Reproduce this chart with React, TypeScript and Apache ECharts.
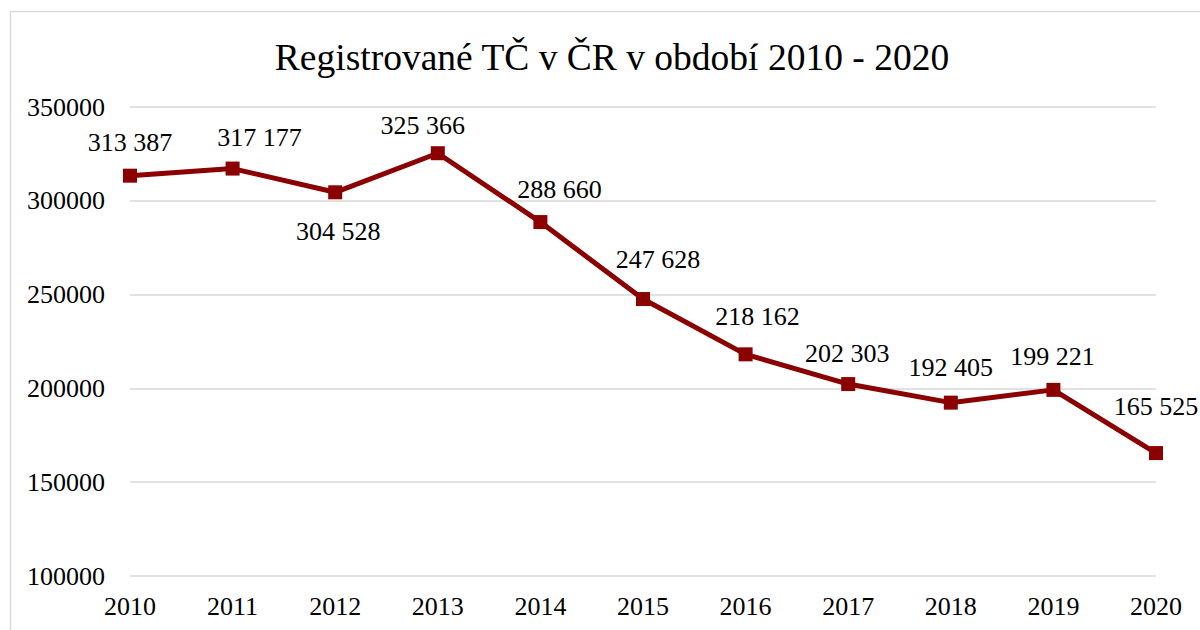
import React, { useEffect, useRef } from "react";
import * as echarts from "echarts";

const years = ["2010", "2011", "2012", "2013", "2014", "2015", "2016", "2017", "2018", "2019", "2020"];
const registered = [313387, 317177, 304528, 325366, 288660, 247628, 218162, 202303, 192405, 199221, 165525];
const labelOffsets: [number, number][] = [
  [0, -33], [27, -31], [3, 39], [-15, -28], [19, -33], [15, -40],
  [12, -38], [-1, -31], [0, -35], [-1, -33], [0, -47],
];

const FONT = "Liberation Serif";

const fmt = (v: number) => String(v).replace(/\B(?=(\d{3})+(?!\d))/g, " ");

export default function App() {
  const ref = useRef<HTMLDivElement>(null);
  useEffect(() => {
    if (!ref.current) return;
    const chart = echarts.init(ref.current, undefined, { renderer: "svg" });
    chart.setOption({
      animation: false,
      backgroundColor: "#ffffff",
      title: {
        text: "Registrované TČ v ČR v období 2010 - 2020",
        left: 607,
        textAlign: "center",
        top: 33,
        textStyle: { fontFamily: FONT, fontSize: 37.5, fontWeight: "normal", color: "#000" },
      },
      graphic: [
        {
          type: "rect",
          shape: { x: 10.5, y: 11.5, width: 1200, height: 640 },
          style: { fill: "none", stroke: "#d9d9d9", lineWidth: 1.5 },
          silent: true,
          z: -1,
        },
      ],
      grid: { left: 130, right: 44, top: 107, bottom: 54 },
      xAxis: {
        type: "category",
        data: years,
        boundaryGap: false,
        axisLine: { show: false },
        axisTick: { show: false },
        axisLabel: { fontFamily: FONT, fontSize: 26, color: "#000", margin: 17 },
      },
      yAxis: {
        type: "value",
        min: 100000,
        max: 350000,
        interval: 50000,
        axisLine: { show: false },
        axisTick: { show: false },
        axisLabel: {
          fontFamily: FONT,
          fontSize: 26,
          color: "#000",
          margin: 25,
          formatter: (v: number) => String(v),
        },
        splitLine: { lineStyle: { color: "#d9d9d9", width: 1.5 } },
      },
      series: [
        {
          type: "line",
          data: registered.map((v, i) => ({
            value: v,
            label: { offset: labelOffsets[i] },
          })),
          symbol: "rect",
          symbolSize: 14,
          lineStyle: { color: "#8b0000", width: 5 },
          itemStyle: { color: "#8b0000" },
          label: {
            show: true,
            position: "inside",
            fontFamily: FONT,
            fontSize: 26,
            color: "#000",
            formatter: (p: any) => fmt(p.value),
          },
        },
      ],
    });
    return () => chart.dispose();
  }, []);
  return <div ref={ref} style={{ position: "fixed", left: 0, top: 0, width: 1200, height: 630 }} />;
}
